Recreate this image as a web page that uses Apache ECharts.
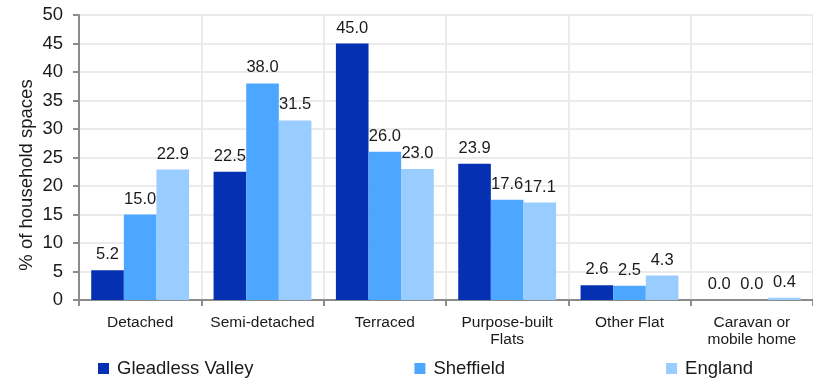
<!DOCTYPE html>
<html>
<head>
<meta charset="utf-8">
<script src="https://cdn.jsdelivr.net/npm/echarts@6/dist/echarts.min.js"></script>
<style>
    html, body { margin: 0; padding: 0; background: #fff; }
    #chart { width: 813px; height: 382px; }
</style>
</head>
<body>
<div id="chart"></div>
<script>
    var categories = ['Detached', 'Semi-detached', 'Terraced', 'Purpose-built\nFlats', 'Other Flat', 'Caravan or\nmobile home'];
    var gleadless = [5.2, 22.5, 45.0, 23.9, 2.6, 0.0];
    var sheffield = [15.0, 38.0, 26.0, 17.6, 2.5, 0.0];
    var england = [22.9, 31.5, 23.0, 17.1, 4.3, 0.4];

    var chart = echarts.init(document.getElementById('chart'));

    var font = 'Liberation Sans, Arial, sans-serif';

    /* ---------- bar series helper ---------- */
    function makeSeries(name, data, color) {
        return {
            name: name,
            type: 'bar',
            data: data,
            barGap: '0%',
            barCategoryGap: '20%',
            itemStyle: { color: color },
            label: {
                show: true,
                position: 'top',
                distance: 7,
                color: '#1a1a1a',
                fontFamily: font,
                fontSize: 16.5,
                formatter: function (p) { return p.value.toFixed(1); }
            }
        };
    }

    option = {
        animation: false,
        textStyle: { fontFamily: font },
        grid: {
            left: 79,
            right: -8,
            top: 15,
            bottom: 82,
            containLabel: false
        },
        legend: {
            left: 98,
            top: 359,
            padding: 0,
            itemWidth: 11,
            itemHeight: 11,
            itemGap: 161,
            icon: 'rect',
            textStyle: { fontSize: 18.5, color: '#1a1a1a', fontFamily: font, padding: [0, 0, 0, 3] }
        },
        // y axis title
        graphic: [{
            type: 'text',
            rotation: Math.PI / 2,
            x: 27,
            y: 175,
            style: {
                text: '% of household spaces',
                fontSize: 18.5,
                fontFamily: font,
                fill: '#1a1a1a',
                align: 'center',
                verticalAlign: 'middle'
            }
        }],
        xAxis: {
            type: 'category',
            data: categories,
            axisLine: { lineStyle: { color: '#8c8c8c', width: 2 } },
            axisTick: { show: true, length: 6, lineStyle: { color: '#8c8c8c', width: 2 } },
            splitLine: { show: true, lineStyle: { color: '#ebebeb', width: 2 } },
            axisLabel: {
                color: '#1a1a1a',
                fontSize: 15.5,
                margin: 14,
                lineHeight: 17,
                interval: 0
            }
        },
        yAxis: {
            type: 'value',
            min: 0,
            max: 50,
            interval: 5,
            axisLine: { show: true, lineStyle: { color: '#8c8c8c', width: 2 } },
            axisTick: { show: true, length: 6, lineStyle: { color: '#8c8c8c', width: 2 } },
            splitLine: { lineStyle: { color: '#ebebeb', width: 2 } },
            axisLabel: { color: '#1a1a1a', fontSize: 18.5, margin: 16 }
        },
        series: [
            makeSeries('Gleadless Valley', gleadless, '#0530b2'),
            makeSeries('Sheffield', sheffield, '#4da6ff'),
            makeSeries('England', england, '#99ccff')
        ]
    };

    chart.setOption(option);
</script>
</body>
</html>
